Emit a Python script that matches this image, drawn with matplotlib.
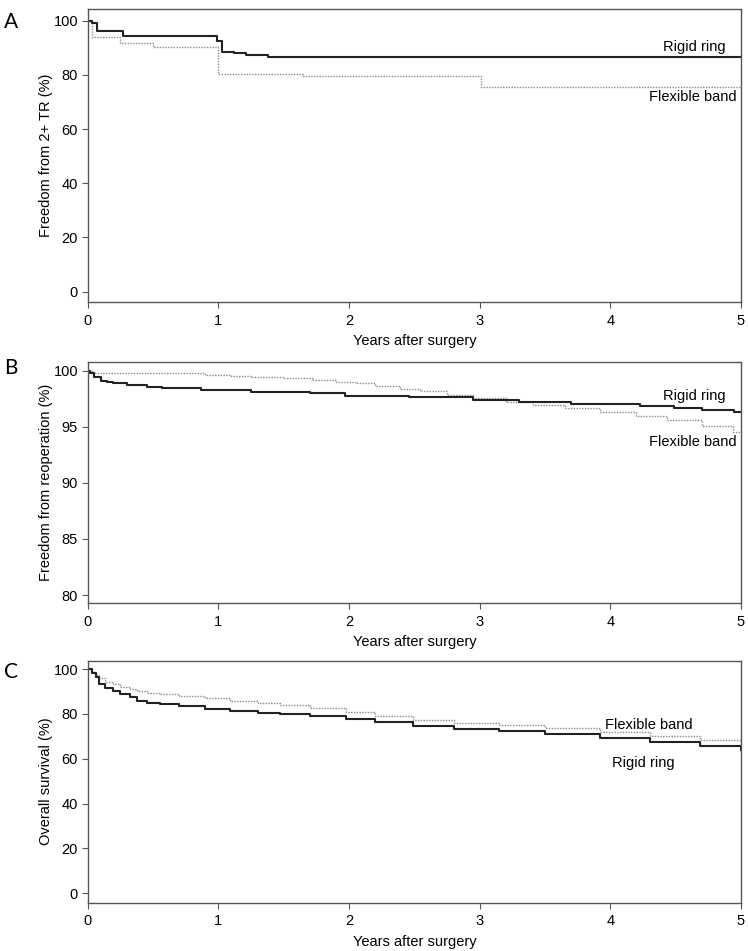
import numpy as np
import matplotlib.pyplot as plt

plt.rcParams['font.family'] = ['Liberation Sans', 'DejaVu Sans']

# panel A - freedom from 2+ TR
a_rigid_t = [0, 0.03, 0.07, 0.27, 0.99, 1.03, 1.12, 1.21, 1.38, 5.0]
a_rigid_v = [100, 99.2, 96.3, 94.2, 92.5, 88.4, 87.9, 87.3, 86.6, 86.6]
a_flex_t = [0, 0.03, 0.25, 0.50, 1.00, 1.65, 3.01, 5.0]
a_flex_v = [100, 93.9, 91.7, 90.3, 80.3, 79.6, 75.4, 75.4]

# panel B - freedom from reoperation
b_rigid_t = [0, 0.02, 0.05, 0.10, 0.15, 0.19, 0.30, 0.45, 0.57, 0.87, 1.25, 1.70,
             1.97, 2.46, 2.95, 3.30, 3.70, 4.23, 4.49, 4.70, 4.95, 5.0]
b_rigid_v = [100, 99.8, 99.4, 99.1, 99.0, 98.88, 98.7, 98.55, 98.43, 98.28, 98.13, 97.98,
             97.74, 97.63, 97.38, 97.2, 97.03, 96.85, 96.64, 96.49, 96.34, 96.34]
b_flex_t = [0, 0.03, 0.05, 0.70, 0.90, 1.10, 1.26, 1.50, 1.72, 1.90, 2.06, 2.20, 2.39,
            2.54, 2.75, 2.95, 3.20, 3.41, 3.65, 3.92, 4.20, 4.43, 4.70, 4.94, 5.0]
b_flex_v = [100, 99.9, 99.82, 99.77, 99.65, 99.55, 99.46, 99.3, 99.17, 99.0, 98.88, 98.6, 98.34,
            98.19, 97.85, 97.54, 97.2, 96.94, 96.65, 96.34, 95.95, 95.6, 95.1, 94.55, 94.5]

# panel C - overall survival
c_t = [0, 0.03, 0.06, 0.09, 0.13, 0.19, 0.25, 0.32, 0.38, 0.45, 0.55, 0.70, 0.90, 1.09,
       1.30, 1.47, 1.70, 1.98, 2.20, 2.49, 2.80, 3.15, 3.50, 3.92, 4.30, 4.69, 5.0]
c_rigid_v = [100, 98.5, 96.5, 93.3, 91.8, 90.3, 88.7, 87.4, 86.0, 85.1, 84.5, 83.6, 82.4, 81.4,
             80.6, 79.9, 78.9, 77.7, 76.4, 74.8, 73.5, 72.2, 70.9, 69.3, 67.6, 65.6, 64.0]
c_flex_v = [100, 98.8, 97.3, 96.0, 94.5, 93.2, 92.0, 91.0, 90.2, 89.5, 88.8, 88.0, 87.0, 86.0,
            85.0, 84.2, 82.6, 80.8, 79.2, 77.4, 76.2, 75.1, 73.8, 72.1, 70.4, 68.4, 67.0]

xticks = [0, 1, 2, 3, 4, 5]
spine_col = '#555555'

fig = plt.figure(figsize=(7.48, 9.51), dpi=100)


def setup(ax, ylim, yticks, ylabel, letter, let_y):
    ax.set_xlim(0, 5)
    ax.set_ylim(*ylim)
    ax.set_xticks(xticks)
    ax.set_yticks(yticks)
    ax.tick_params(direction='out', length=4, width=0.8, color=spine_col,
                   labelsize=10.5, pad=3)
    ax.tick_params(axis='x', pad=4)
    for s in ax.spines.values():
        s.set_color(spine_col)
        s.set_linewidth(1.0)
    ax.set_xlabel('Years after surgery', fontsize=10.5, labelpad=5)
    ax.set_ylabel(ylabel, fontsize=10.5, labelpad=0)
    ax.text(-0.128, let_y, letter, transform=ax.transAxes, fontsize=15,
            family=['Lato', 'DejaVu Sans'], ha='left', va='top')


rigid_kw = dict(drawstyle='steps-post', color='#222222', lw=1.5)
flex_kw = dict(drawstyle='steps-post', color='#8a8a8a', lw=1.0, ls=(0, (1, 1)))

axA = fig.add_axes([0.1173, 0.682, 0.8733, 0.3085])
axA.plot(a_flex_t, a_flex_v, **flex_kw)
axA.plot(a_rigid_t, a_rigid_v, **rigid_kw)
setup(axA, (-4, 104.3), [0, 20, 40, 60, 80, 100], 'Freedom from 2+ TR (%)', 'A', 0.99)
axA.text(4.88, 90.4, 'Rigid ring', fontsize=10.5, ha='right', va='center')
axA.text(4.97, 72.0, 'Flexible band', fontsize=10.5, ha='right', va='center')

axB = fig.add_axes([0.1173, 0.3655, 0.8733, 0.2542])
axB.plot(b_flex_t, b_flex_v, **flex_kw)
axB.plot(b_rigid_t, b_rigid_v, **rigid_kw)
setup(axB, (79.26, 100.8), [80, 85, 90, 95, 100], 'Freedom from reoperation (%)', 'B', 1.015)
axB.text(4.88, 97.74, 'Rigid ring', fontsize=10.5, ha='right', va='center')
axB.text(4.97, 93.6, 'Flexible band', fontsize=10.5, ha='right', va='center')

axC = fig.add_axes([0.1173, 0.0508, 0.8733, 0.2545])
axC.plot(c_t, c_flex_v, **flex_kw)
axC.plot(c_t, c_rigid_v, **rigid_kw)
setup(axC, (-4.2, 103.8), [0, 20, 40, 60, 80, 100], 'Overall survival (%)', 'C', 0.995)
axC.text(4.63, 75.1, 'Flexible band', fontsize=10.5, ha='right', va='center')
axC.text(4.49, 58.3, 'Rigid ring', fontsize=10.5, ha='right', va='center')

fig.savefig('out.png', dpi=100)
print("Finished")
